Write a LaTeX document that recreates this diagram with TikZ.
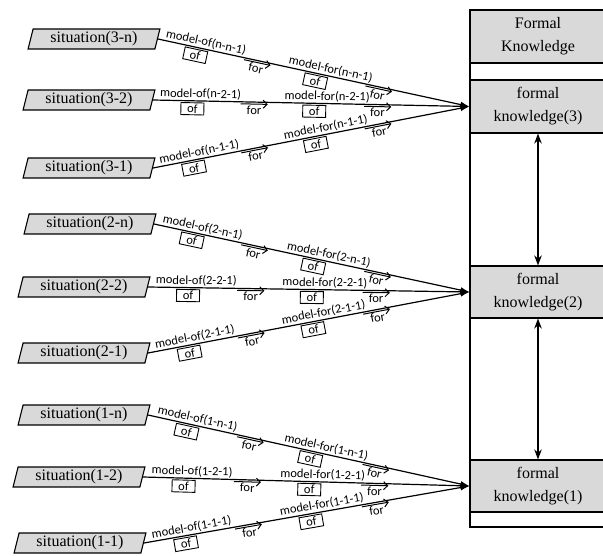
\documentclass[tikz,border=0pt]{standalone}
\usepackage{fontspec}
\setmainfont{Liberation Serif}
\newfontfamily\lblfont{Carlito}
\usetikzlibrary{arrows.meta, positioning, shapes.geometric, calc}

\begin{document}
\begin{tikzpicture}[x=1pt, y=-1pt,
    situ/.style={draw, line width=1.1pt, fill=black!15, trapezium, trapezium left angle=76,
        trapezium right angle=104, trapezium stretches=true, minimum width=132pt,
        minimum height=20pt, inner sep=0pt, font=\fontsize{16}{17}\selectfont},
    know/.style={draw, line width=1.1pt, fill=black!15, minimum width=136pt, minimum height=53pt,
        align=center, font=\fontsize{16}{23}\selectfont},
    link/.style={line width=1.2pt, -{Latex[length=9pt,width=6pt]}},
    lbl/.style={sloped, above, inner sep=1pt, font=\lblfont\fontsize{12.5}{13}\selectfont},
    ofbox/.style={sloped, below=1.5pt, draw, line width=0.9pt, minimum width=23pt, minimum height=12pt,
        inner sep=0pt, font=\lblfont\fontsize{12.5}{13}\selectfont},
    forlbl/.style={sloped, below=2pt, minimum width=26pt, inner sep=1pt, font=\lblfont\fontsize{12.5}{13}\selectfont},
    forarrow/.style={line width=1pt, -{Straight Barb[length=4pt]}},
    dblarrow/.style={line width=1.4pt, {Stealth[length=10pt]}-{Stealth[length=10pt]}}]
    \clip (0,0) rectangle (603,556);

    % Formal knowledge column
    \draw[line width=1.1pt] (470,10) rectangle (606,527);
    \node[know] (head) at (538,36.5) {Formal\\Knowledge};
    \node[know] (kn3) at (538,106.5) {formal\\knowledge(3)};
    \node[know, minimum height=52pt] (kn2) at (538,292) {formal\\knowledge(2)};
    \node[know, minimum height=52pt] (kn1) at (538,486) {formal\\knowledge(1)};
    \draw[dblarrow] (kn3.south) -- (kn2.north);
    \draw[dblarrow] (kn2.south) -- (kn1.north);

    % Situations
    \node[situ] (s3n) at (94,39) {situation(3-n)};
    \node[situ] (s32) at (89,100) {situation(3-2)};
    \node[situ] (s31) at (89,168) {situation(3-1)};
    \node[situ] (s2n) at (90,224) {situation(2-n)};
    \node[situ] (s22) at (84,287) {situation(2-2)};
    \node[situ] (s21) at (84,353) {situation(2-1)};
    \node[situ] (s1n) at (84,415) {situation(1-n)};
    \node[situ] (s12) at (79,477) {situation(1-2)};
    \node[situ] (s11) at (80,543) {situation(1-1)};

    % Model-of / model-for links
    \foreach \s/\k/\lab in {s3n/kn3/n-n-1, s32/kn3/n-2-1, s31/kn3/n-1-1,
                            s2n/kn2/2-n-1, s22/kn2/2-2-1, s21/kn2/2-1-1,
                            s1n/kn1/1-n-1, s12/kn1/1-2-1, s11/kn1/1-1-1} {
        \draw[link] (\s.east) -- (\k.west)
            node[lbl, pos=.15] {model-of(\lab)}
            node[ofbox, pos=.125] {of}
            node[forlbl, pos=.32] (fa) {for}
            node[lbl, pos=.55] {model-for(\lab)}
            node[ofbox, pos=.51] {of}
            node[forlbl, pos=.71] (fb) {for};
        \draw[forarrow] (fa.north west) -- (fa.north east);
        \draw[forarrow] (fb.north west) -- (fb.north east);
    }
\end{tikzpicture}
\end{document}
